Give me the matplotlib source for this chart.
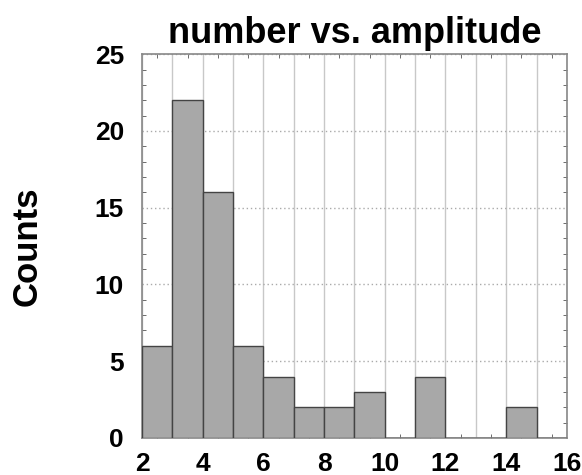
import matplotlib
matplotlib.use("Agg")
import matplotlib.pyplot as plt
from matplotlib.ticker import MultipleLocator

# histogram of amplitudes, unit-width bins from 2 to 16
bin_edges = list(range(2, 17))
counts = [6, 22, 16, 6, 4, 2, 2, 3, 0, 4, 0, 0, 2, 0]

plt.rcParams["font.family"] = ["Liberation Sans", "DejaVu Sans"]
plt.rcParams["font.weight"] = "bold"

fig = plt.figure(figsize=(5.82, 4.75), dpi=100)
ax = fig.add_axes([0.244, 0.078, 0.730, 0.808])

ax.bar(bin_edges[:-1], counts, width=1, align="edge",
       color="#a8a8a8", edgecolor="#444444", linewidth=1.0, zorder=3)

ax.set_xlim(2, 16)
ax.set_ylim(0, 25)

# integer gridlines on x, labels only on even values
ax.set_xticks(bin_edges)
ax.set_xticklabels([str(v) if v % 2 == 0 else "" for v in bin_edges])
ax.xaxis.set_minor_locator(MultipleLocator(0.5))
ax.yaxis.set_major_locator(MultipleLocator(5))
ax.yaxis.set_minor_locator(MultipleLocator(1))

ax.grid(axis="x", which="major", color="#c8c8c8", linewidth=1.0, zorder=0)
ax.grid(axis="y", which="major", color="#aaaaaa", linewidth=1.0,
        linestyle=(0, (1, 2)), zorder=0)

ax.tick_params(which="both", direction="in", top=True, right=True,
               labelsize=19, color="#555555")
ax.tick_params(which="major", length=0)
ax.tick_params(axis="x", which="major", pad=10)
ax.tick_params(axis="y", which="major", pad=13)
ax.tick_params(which="minor", length=3)
for s in ax.spines.values():
    s.set_color("#888888")
    s.set_linewidth(1.2)

ax.set_title("number vs. amplitude", fontsize=26, fontweight="bold", pad=8)
ax.set_ylabel("Counts", fontsize=25, fontweight="bold", labelpad=37)

fig.savefig("out.png", dpi=100)
